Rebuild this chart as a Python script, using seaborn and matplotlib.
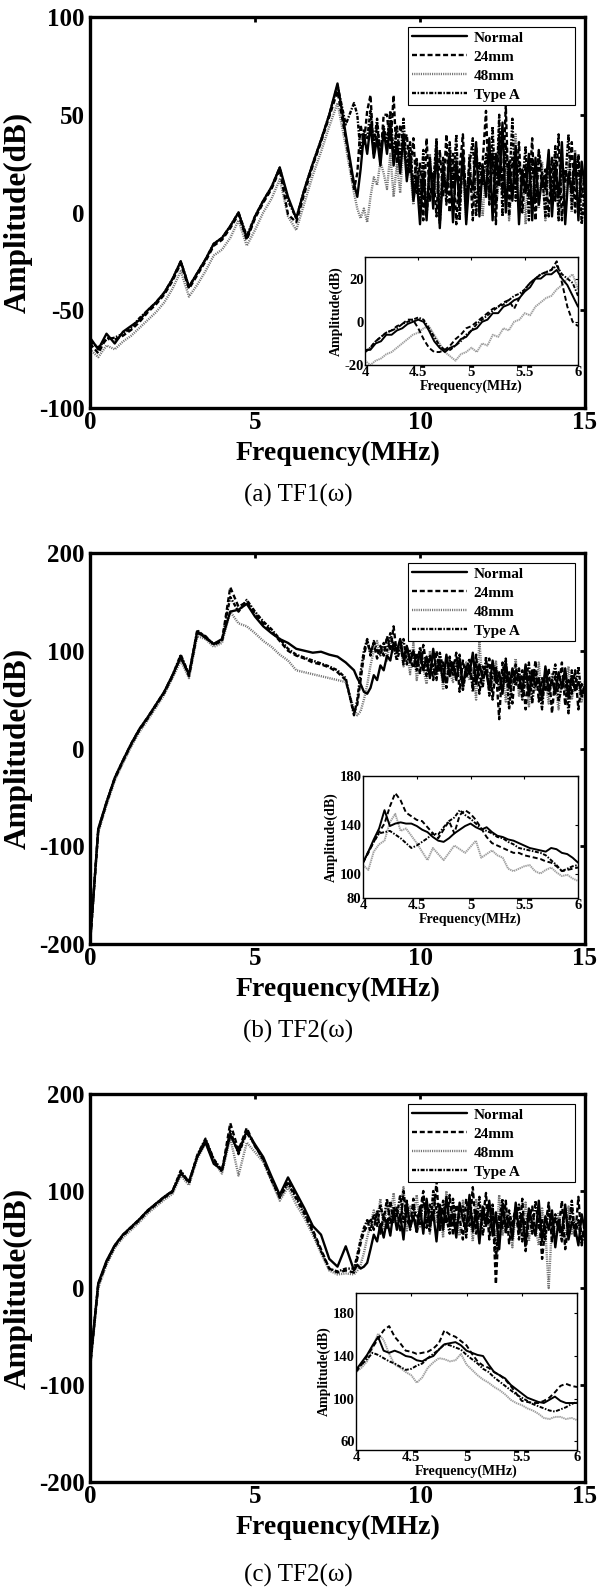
import numpy as np
import matplotlib
matplotlib.use("Agg")
import matplotlib.pyplot as plt
import seaborn as sns

sns.set_theme(style="white")
plt.rcParams['font.family'] = ['Liberation Serif', 'DejaVu Serif']
plt.rcParams['font.weight'] = 'bold'
plt.rcParams['axes.labelweight'] = 'bold'
plt.rcParams['text.color'] = 'black'
plt.rcParams['axes.labelcolor'] = 'black'
plt.rcParams['axes.unicode_minus'] = False
plt.rcParams['lines.scale_dashes'] = False

# frequency axis (MHz): 0.25 MHz steps up to 8 MHz, 0.1 MHz above where the spectra get noisy
freq = np.concatenate([np.arange(0, 8, 0.25), np.round(np.arange(8, 15.001, 0.1), 1)])
# 4-6 MHz window shown in the insets
freq_zoom = np.round(np.arange(4, 6.001, 0.05), 2)

# ---- (a) TF1 ----
tf1_normal = [-64, -70, -62, -67, -61, -58, -55, -50, -46, -41, -34, -25, -38, -31, -24, -16,
              -13, -7, 0, -13, -2, 6, 13, 23, 8, -3, 12, 25, 37, 50, 66, 40,
              15, 8, 22, 40, 30, 45, 28, 38, 24, 42,
              30, 46, 24, 36, 20, 40, 16, 30, 6, 18,
              -6, 20, -4, 28, 2, 35, -8, 22, 10, 30,
              -5, 26, 4, 32, -6, 18, 12, 36, -2, 24,
              8, 38, -4, 30, 14, 46, 0, 26, 6, 34,
              -6, 22, 10, 30, -4, 28, 4, 18, 12, 32,
              -2, 24, 8, 36, -6, 20, 10, 30, -4, 26, 12]
tf1_24mm = [-67, -72, -64, -65, -63, -60, -56, -51, -47, -42, -35, -26, -39, -32, -25, -17,
            -14, -8, -1, -14, -3, 5, 12, 22, -1, -5, 10, 24, 36, 49, 62, 38,
            12, 20, 45, 35, 52, 60, 30, 45, 28, 50,
            50, 32, 60, 25, 45, 35, 40, 20, 38, 10,
            25, -4, 38, 6, 20, -2, 32, 8, 40, 0,
            30, -6, 22, 40, 2, 28, -4, 34, 10, 26,
            52, 4, 30, -6, 40, 10, 55, -2, 28, 14,
            36, 0, 24, 8, 38, -4, 30, 12, 22, -2,
            28, 6, 40, -4, 22, 14, 36, 0, 30, 8, 20]
tf1_48mm = [-70, -74, -68, -70, -66, -63, -59, -55, -51, -46, -39, -30, -43, -37, -30, -22,
            -19, -13, -4, -17, -9, 0, 7, 17, -2, -9, 5, 19, 31, 44, 56, 34,
            10, 2, -3, 2, -5, 8, 18, 14, 26, 20,
            12, 30, 8, 25, 10, 35, 18, 22, 4, 26,
            10, 24, -2, 30, 6, 16, -4, 26, 12, 20,
            2, 28, 10, 22, -4, 30, 6, 18, 16, -2,
            24, 6, 32, 0, 20, 10, 28, -4, 18, 40,
            4, 22, -6, 28, 10, 18, 2, 26, -4, 20,
            14, 30, -2, 22, 8, 26, 0, 32, 6, 18, 4]
tf1_typea = [-66, -69, -65, -64, -62, -59, -54, -50, -46, -41, -34, -25, -38, -31, -24, -16,
             -13, -7, 0, -12, -2, 6, 13, 23, 6, -3, 12, 25, 37, 50, 65, 45,
             56, 50, 30, 42, 38, 52, 35, 48, 28, 44,
             36, 52, 30, 44, 26, 48, 22, 36, 12, 28,
             2, 32, -2, 24, 14, 38, -6, 28, 4, 36,
             12, 40, -4, 30, 6, 24, 38, -2, 26, 14,
             30, 10, 44, 4, 50, -2, 36, 12, 48, 6,
             26, 14, 34, -4, 28, 6, 32, 20, -2, 30,
             8, 34, -4, 26, 16, 40, 2, 22, 28, -6, 14]

tf1_zoom_normal = [-13, -13, -10, -9, -6, -6, -4, -3, -1, 0, 1, 0, -4, -9, -12, -14, -12, -11, -8, -7,
                   -4, -3, 0, 1, 4, 4, 7, 8, 10, 11, 14, 16, 20, 20, 22, 22, 24, 20, 17, 12, 7]
tf1_zoom_24mm = [-14, -12, -9, -7, -5, -4, -2, -1, 1, 1, -3, -8, -12, -14, -14, -13, -11, -8, -6, -3,
                 -2, 0, 2, 4, 6, 7, 9, 10, 6, 11, 15, 18, 20, 22, 23, 24, 28, 18, 7, 0, -2]
tf1_zoom_48mm = [-18, -20, -18, -17, -15, -14, -12, -10, -8, -6, -5, -3, -2, -6, -10, -14, -16, -18, -15, -14,
                 -12, -14, -10, -11, -6, -7, -3, -4, 0, 1, 4, 3, 7, 9, 11, 12, 15, 17, 20, 22, 15]
tf1_zoom_typea = [-14, -12, -9, -7, -5, -4, -3, -1, 0, 1, 2, 1, -3, -7, -11, -13, -13, -11, -9, -6,
                  -4, -1, 1, 3, 5, 7, 8, 10, 12, 13, 15, 18, 20, 22, 23, 24, 26, 22, 20, 18, 12]

# ---- (b) TF2 ----
tf2b_normal = [-200, -82, -55, -30, -12, 5, 20, 32, 45, 58, 75, 93, 76, 120, 113, 107,
               112, 140, 142, 148, 135, 125, 118, 112, 108, 102, 100, 98, 99, 96, 94, 88,
               80, 72, 66, 58, 56, 62, 75, 70, 85, 80,
               95, 90, 108, 100, 112, 92, 105, 88, 100, 84,
               98, 80, 94, 72, 102, 78, 90, 68, 96, 74,
               88, 70, 92, 64, 84, 76, 98, 66, 86, 72,
               80, 60, 90, 68, 78, 56, 88, 62, 82, 70,
               74, 58, 86, 54, 80, 64, 72, 50, 84, 60,
               70, 56, 78, 62, 82, 52, 74, 60, 68, 56, 64]
tf2b_24mm = [-200, -84, -56, -31, -13, 4, 19, 31, 44, 57, 74, 95, 74, 118, 115, 106,
             110, 165, 145, 150, 138, 128, 120, 110, 100, 95, 92, 88, 86, 83, 78, 70,
             36, 45, 70, 95, 110, 98, 108, 92, 105, 95,
             115, 100, 125, 96, 110, 86, 104, 92, 82, 98,
             76, 106, 84, 92, 70, 100, 78, 88, 62, 94,
             80, 98, 58, 90, 72, 86, 64, 96, 56, 84,
             76, 92, 50, 82, 30, 88, 68, 78, 46, 86,
             60, 80, 40, 76, 64, 90, 48, 72, 58, 82,
             36, 74, 62, 88, 44, 70, 56, 80, 40, 66, 58]
tf2b_48mm = [-200, -86, -58, -33, -15, 2, 17, 29, 42, 55, 72, 90, 72, 115, 112, 104,
             108, 140, 128, 125, 118, 110, 104, 96, 90, 80, 78, 76, 74, 72, 70, 68,
             40, 34, 38, 50, 65, 85, 100, 110, 95, 105,
             90, 112, 100, 94, 106, 84, 98, 76, 108, 70,
             92, 82, 66, 100, 74, 88, 94, 60, 84, 78,
             68, 92, 76, 60, 88, 70, 82, 50, 110, 64,
             86, 72, 58, 90, 62, 80, 48, 76, 66, 92,
             54, 70, 84, 42, 74, 60, 88, 52, 70, 46,
             76, 64, 40, 72, 58, 84, 50, 66, 62, 48, 70]
tf2b_typea = [-200, -83, -55, -30, -12, 5, 20, 32, 45, 58, 75, 96, 76, 121, 114, 107,
              111, 155, 140, 152, 140, 130, 122, 112, 102, 96, 93, 90, 87, 84, 80, 72,
              34, 50, 78, 100, 112, 95, 110, 100, 96, 108,
              100, 118, 104, 90, 102, 112, 86, 100, 94, 80,
              104, 88, 74, 96, 84, 70, 98, 82, 66, 90,
              74, 84, 96, 60, 80, 92, 58, 86, 74, 62,
              94, 54, 76, 84, 60, 72, 92, 40, 78, 64,
              82, 50, 70, 88, 46, 76, 62, 40, 80, 56,
              70, 86, 48, 64, 76, 36, 80, 58, 84, 52, 62]

tf2b_zoom_normal = [109, 118, 128, 137, 152, 139, 141, 142, 141, 141, 139, 136, 134, 130, 127, 126, 129, 133, 136, 139,
                    141, 138, 136, 138, 134, 131, 130, 128, 127, 125, 123, 121, 120, 119, 118, 121, 120, 117, 116, 113, 109]
tf2b_zoom_24mm = [109, 117, 126, 134, 141, 155, 166, 160, 150, 147, 144, 143, 138, 133, 129, 136, 143, 133, 148, 152,
                  149, 144, 137, 130, 125, 123, 121, 119, 117, 117, 115, 114, 113, 112, 110, 109, 106, 102, 103, 104, 105]
tf2b_zoom_48mm = [107, 103, 118, 124, 127, 142, 149, 135, 137, 131, 125, 118, 111, 121, 116, 111, 117, 123, 120, 117,
                  122, 127, 113, 116, 119, 115, 113, 104, 102, 104, 106, 107, 102, 100, 103, 105, 101, 98, 99, 96, 94]
tf2b_zoom_typea = [109, 118, 126, 133, 134, 135, 132, 129, 125, 121, 123, 126, 129, 133, 132, 138, 143, 146, 152, 148,
                   145, 141, 137, 135, 133, 130, 129, 126, 124, 121, 120, 119, 118, 117, 115, 111, 107, 102, 104, 106, 107]

# ---- (c) TF2 ----
tf2c_normal = [-80, 5, 28, 44, 55, 63, 71, 80, 87, 94, 100, 118, 110, 135, 150, 128,
               122, 158, 140, 162, 148, 135, 115, 96, 114, 98, 82, 64, 55, 30, 22, 43,
               18, 24, 20, 22, 26, 40, 55, 48, 66, 52,
               70, 54, 80, 60, 76, 50, 88, 62, 74, 58,
               84, 56, 92, 64, 78, 48, 86, 60, 94, 66,
               76, 52, 88, 70, 60, 96, 58, 80, 46, 84,
               64, 90, 54, 78, 40, 86, 62, 72, 50, 88,
               58, 76, 44, 82, 66, 54, 90, 48, 74, 60,
               80, 42, 70, 56, 86, 50, 68, 62, 44, 76, 58]
tf2c_24mm = [-82, 3, 26, 43, 54, 62, 70, 79, 86, 93, 99, 120, 108, 136, 153, 132,
             120, 170, 142, 165, 146, 133, 112, 94, 110, 94, 78, 60, 40, 20, 16, 18,
             16, 30, 46, 58, 64, 72, 60, 80, 56, 76,
             62, 90, 68, 84, 58, 100, 70, 64, 92, 56,
             78, 100, 62, 86, 70, 110, 58, 82, 66, 96,
             54, 86, 72, 50, 92, 64, 104, 56, 78, 70,
             98, 50, 84, 4, 76, 62, 90, 46, 68, 82,
             50, 92, 38, 70, 84, 56, 78, 30, 64, 88,
             48, 72, 60, 90, 40, 66, 80, 52, 94, 46, 70]
tf2c_48mm = [-84, 0, 24, 41, 52, 60, 68, 77, 84, 91, 97, 116, 106, 133, 150, 130,
             118, 155, 116, 150, 140, 130, 110, 90, 104, 86, 72, 55, 36, 18, 14, 15,
             14, 18, 24, 36, 52, 66, 80, 70, 92, 60,
             86, 72, 98, 64, 80, 104, 58, 84, 70, 96,
             62, 88, 76, 56, 90, 68, 82, 52, 100, 64,
             84, 70, 54, 90, 66, 78, 48, 92, 60, 74,
             86, 58, 72, 46, 96, 54, 80, 66, 42, 78,
             70, 56, 88, 48, 74, 62, 44, 82, 58, 0,
             66, 52, 78, 60, 48, 84, 56, 70, 64, 50, 60]
tf2c_typea = [-81, 4, 27, 44, 55, 63, 71, 80, 87, 94, 100, 121, 109, 137, 154, 133,
              121, 162, 138, 160, 147, 132, 111, 93, 108, 92, 76, 58, 38, 20, 17, 20,
              20, 34, 50, 62, 70, 58, 76, 64, 86, 70,
              92, 66, 84, 74, 96, 68, 90, 60, 82, 76,
              66, 94, 72, 58, 100, 80, 64, 90, 72, 56,
              92, 60, 78, 84, 52, 88, 70, 62, 94, 54,
              76, 68, 86, 30, 70, 92, 56, 80, 64, 74,
              86, 48, 68, 78, 56, 90, 62, 70, 50, 84,
              58, 76, 64, 48, 82, 60, 90, 54, 70, 44, 66]

tf2c_zoom_normal = [127, 134, 141, 150, 158, 145, 143, 145, 143, 140, 139, 136, 135, 138, 140, 146, 151, 152, 153, 150,
                    145, 143, 141, 140, 132, 125, 122, 119, 113, 109, 105, 101, 99, 97, 96, 99, 102, 98, 96, 96, 96]
tf2c_zoom_24mm = [125, 132, 140, 148, 156, 164, 168, 158, 152, 145, 144, 142, 143, 144, 147, 152, 164, 160, 158, 154,
                  150, 142, 135, 131, 129, 125, 122, 118, 112, 105, 98, 97, 96, 96, 98, 101, 106, 112, 114, 112, 111]
tf2c_zoom_48mm = [125, 129, 135, 148, 161, 155, 142, 132, 129, 125, 122, 115, 120, 129, 134, 138, 137, 135, 136, 142,
                  132, 127, 122, 118, 115, 111, 108, 104, 99, 96, 94, 91, 89, 86, 82, 81, 83, 83, 81, 82, 80]
tf2c_zoom_typea = [127, 132, 137, 143, 141, 138, 135, 133, 130, 127, 128, 131, 133, 138, 142, 146, 151, 150, 148, 146,
                   141, 137, 133, 128, 125, 120, 116, 112, 108, 104, 101, 98, 95, 93, 91, 89, 88, 90, 92, 95, 97]

labels = ['Normal', '24mm', '48mm', 'Type A']
draw_order = ['48mm', 'Type A', '24mm', 'Normal']
line_styles = {
    'Normal': dict(color='black', linestyle='-'),
    '24mm': dict(color='black', linestyle=(0, (3.6, 2.0))),
    '48mm': dict(color='0.45', linestyle=(0, (0.8, 0.8))),
    'Type A': dict(color='black', linestyle=(0, (2.9, 1.1, 1.1, 1.1))),
}

panels = [
    dict(main={'Normal': tf1_normal, '24mm': tf1_24mm, '48mm': tf1_48mm, 'Type A': tf1_typea},
         zoom={'Normal': tf1_zoom_normal, '24mm': tf1_zoom_24mm, '48mm': tf1_zoom_48mm, 'Type A': tf1_zoom_typea},
         ylim=(-100, 100), yticks=[-100, -50, 0, 50, 100],
         zylim=(-20, 30), zyticks=[-20, 0, 20],
         box=(90, 17, 585, 408), inset=(365, 257, 578, 365), caption_y=495, caption='(a) TF1(ω)'),
    dict(main={'Normal': tf2b_normal, '24mm': tf2b_24mm, '48mm': tf2b_48mm, 'Type A': tf2b_typea},
         zoom={'Normal': tf2b_zoom_normal, '24mm': tf2b_zoom_24mm, '48mm': tf2b_zoom_48mm, 'Type A': tf2b_zoom_typea},
         ylim=(-200, 200), yticks=[-200, -100, 0, 100, 200],
         zylim=(80, 180), zyticks=[80, 100, 140, 180],
         box=(90, 553, 585, 944), inset=(363, 776, 578, 898), caption_y=1031, caption='(b) TF2(ω)'),
    dict(main={'Normal': tf2c_normal, '24mm': tf2c_24mm, '48mm': tf2c_48mm, 'Type A': tf2c_typea},
         zoom={'Normal': tf2c_zoom_normal, '24mm': tf2c_zoom_24mm, '48mm': tf2c_zoom_48mm, 'Type A': tf2c_zoom_typea},
         ylim=(-200, 200), yticks=[-200, -100, 0, 100, 200],
         zylim=(52, 199), zyticks=[60, 100, 140, 180],
         box=(90, 1094, 585, 1482), inset=(356, 1293, 577, 1450), caption_y=1575, caption='(c) TF2(ω)'),
]

W, H = 597, 1593


def rect(l, t, r, b):
    return [l / W, 1 - b / H, (r - l) / W, (b - t) / H]


fig = plt.figure(figsize=(W / 100, H / 100), dpi=100)

for p in panels:
    l, t, r, b = p['box']
    ax = fig.add_axes(rect(l, t, r, b))
    handles = {}
    for name in draw_order:
        st = line_styles[name]
        sns.lineplot(x=freq, y=p['main'][name], ax=ax, color=st['color'], linestyle=st['linestyle'],
                     linewidth=1.7, estimator=None, sort=False)
        handles[name] = ax.lines[-1]
    ax.set_xlim(0, 15)
    ax.set_ylim(*p['ylim'])
    ax.set_xticks([0, 5, 10, 15])
    ax.set_yticks(p['yticks'])
    ax.tick_params(direction='in', top=True, right=True, length=3.5, width=2, labelsize=18,
                   colors='black', pad=2)
    ax.tick_params(axis='y', pad=4)
    for s in ax.spines.values():
        s.set_linewidth(2.4)
        s.set_color('black')
    ax.set_xlabel('Frequency(MHz)', fontsize=20, fontweight='bold', va='center')
    ax.xaxis.set_label_coords(0.5, -45 / (b - t))
    ax.set_ylabel('Amplitude(dB)', fontsize=22.5, fontweight='bold', va='center')
    ax.yaxis.set_label_coords(-72 / (r - l), 0.5)

    # legend frame spans 408-575 px, 10 px below the top spine
    leg = ax.legend([handles[n] for n in labels], labels, loc='upper left',
                    bbox_to_anchor=((408 - l) / (r - l), 0.3, 167 / (r - l), 0.7 - 10 / (b - t)),
                    mode='expand', borderaxespad=0, fontsize=11, frameon=True, fancybox=False,
                    edgecolor='black', framealpha=1, handlelength=3.6, handletextpad=0.45,
                    borderpad=0.25, labelspacing=0.35)
    leg.get_frame().set_linewidth(0.8)

    il, it, ir, ib = p['inset']
    ins = fig.add_axes(rect(il, it, ir, ib), facecolor='white')
    for name in draw_order:
        st = line_styles[name]
        color = '0.62' if name == '48mm' else st['color']
        ls = (0, (1.0, 0.5)) if name == '48mm' else st['linestyle']
        sns.lineplot(x=freq_zoom, y=p['zoom'][name], ax=ins, color=color, linestyle=ls,
                     linewidth=1.4, estimator=None, sort=False)
    ins.set_xlim(4, 6)
    ins.set_ylim(*p['zylim'])
    ins.set_xticks([4, 4.5, 5, 5.5, 6])
    ins.set_xticklabels(['4', '4.5', '5', '5.5', '6'])
    ins.set_yticks(p['zyticks'])
    ins.tick_params(direction='in', top=True, right=True, length=2.5, width=0.8, labelsize=10.5,
                    colors='black', pad=1)
    for s in ins.spines.values():
        s.set_linewidth(1.0)
        s.set_color('black')
    ins.set_xlabel('Frequency(MHz)', fontsize=10, fontweight='bold', labelpad=0)
    ins.set_ylabel('Amplitude(dB)', fontsize=10, fontweight='bold', labelpad=1)

    fig.text(0.5, 1 - p['caption_y'] / H, p['caption'], ha='center', va='center',
             fontsize=18, fontweight='normal')

fig.savefig('out.png', dpi=100)
